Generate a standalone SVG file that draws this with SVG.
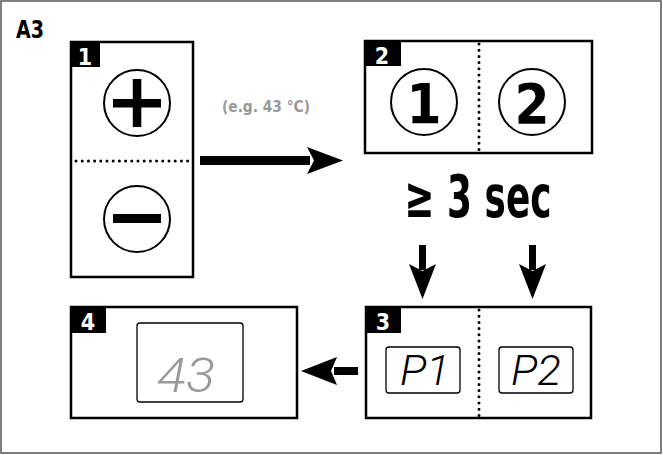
<svg xmlns="http://www.w3.org/2000/svg" width="663" height="455" viewBox="0 0 663 455">
<style>
.box{fill:#fff;stroke:#000;stroke-width:2.5}
.tag{fill:#000}
.tagt{fill:#fff;font-family:"DejaVu Sans Condensed","DejaVu Sans",sans-serif;font-weight:bold;font-size:23px}
.dot{stroke:#000;stroke-width:3;stroke-dasharray:0 6.2;stroke-linecap:round;fill:none}
.btn{fill:#fff;stroke:#000;stroke-width:2}
.lcd{fill:#fff;stroke:#000;stroke-width:1.3}
.seg{font-family:Roboto,"Open Sans",Lato,sans-serif;font-style:italic;font-weight:300}
.big{font-family:"DejaVu Sans Condensed","DejaVu Sans",sans-serif;font-weight:bold}
</style>
<rect x="1" y="1" width="660" height="452" fill="#fff" stroke="#555" stroke-width="1.5"/>
<text x="16" y="38" class="big" font-size="25" textLength="28" lengthAdjust="spacingAndGlyphs">A3</text>

<g id="node1">
<rect class="box" x="71" y="42" width="122" height="235"/>
<rect class="tag" x="70" y="41" width="30" height="26"/>
<text class="tagt" x="85" y="65" text-anchor="middle">1</text>
<line class="dot" x1="76" y1="161" x2="190" y2="161"/>
<circle class="btn" cx="137" cy="103" r="33"/>
<rect x="113" y="99" width="48" height="8.5"/>
<rect x="132.8" y="79" width="8.5" height="48"/>
<circle class="btn" cx="137" cy="219" r="33"/>
<rect x="113" y="214" width="48" height="9"/>
</g>

<g id="node2">
<rect class="box" x="365" y="41" width="227" height="112"/>
<rect class="tag" x="364" y="40" width="37" height="26"/>
<text class="tagt" x="382" y="64" text-anchor="middle">2</text>
<line class="dot" x1="479" y1="44" x2="479" y2="152"/>
<circle class="btn" cx="424" cy="102" r="33"/>
<text x="424" y="123" class="big" font-size="56" text-anchor="middle">1</text>
<circle class="btn" cx="532" cy="102" r="33"/>
<text x="532" y="123" class="big" font-size="56" text-anchor="middle">2</text>
</g>

<g id="node3">
<rect class="box" x="366" y="307" width="225" height="111"/>
<rect class="tag" x="365" y="306" width="36" height="27"/>
<text class="tagt" x="383" y="330" text-anchor="middle">3</text>
<line class="dot" x1="479" y1="310" x2="479" y2="417"/>
<rect class="lcd" x="386" y="347" width="74" height="46" rx="3"/>
<text x="425" y="385" class="seg" font-size="42" text-anchor="middle" textLength="50" lengthAdjust="spacingAndGlyphs">P1</text>
<rect class="lcd" x="499" y="347" width="74" height="46" rx="3"/>
<text x="536" y="385" class="seg" font-size="42" text-anchor="middle" textLength="50" lengthAdjust="spacingAndGlyphs">P2</text>
</g>

<g id="node4">
<rect class="box" x="71" y="307" width="226" height="111"/>
<rect class="tag" x="70" y="306" width="36" height="27"/>
<text class="tagt" x="88" y="330" text-anchor="middle">4</text>
<rect class="lcd" x="137" y="323" width="106" height="79" rx="3"/>
<text x="186" y="392" class="seg" font-size="48" fill="#999" text-anchor="middle" textLength="58" lengthAdjust="spacingAndGlyphs">43</text>
</g>

<g id="labels">
<text x="266" y="112" font-family="'DejaVu Sans Condensed','DejaVu Sans',sans-serif" font-weight="bold" font-size="16" fill="#999" text-anchor="middle" textLength="88" lengthAdjust="spacingAndGlyphs">(e.g. 43 °C)</text>
<text x="478" y="217" class="big" font-size="58" text-anchor="middle" textLength="147" lengthAdjust="spacingAndGlyphs">≥ 3 sec</text>
</g>

<g id="connectors">
<path d="M200 156 H310 V165 H200 Z"/>
<path d="M343 160.5 L307 147 L314 160.5 L307 174 Z"/>
<path d="M358 367 H334 V375 H358 Z"/>
<path d="M301 371 L337 357 L331 371 L337 385 Z"/>
<path d="M419 245 H426 V270 H419 Z"/>
<path d="M422.5 299 L409 264 L422.5 271 L436 264 Z"/>
<path d="M529 245 H536 V270 H529 Z"/>
<path d="M532.5 299 L519 264 L532.5 271 L546 264 Z"/>
</g>
</svg>
